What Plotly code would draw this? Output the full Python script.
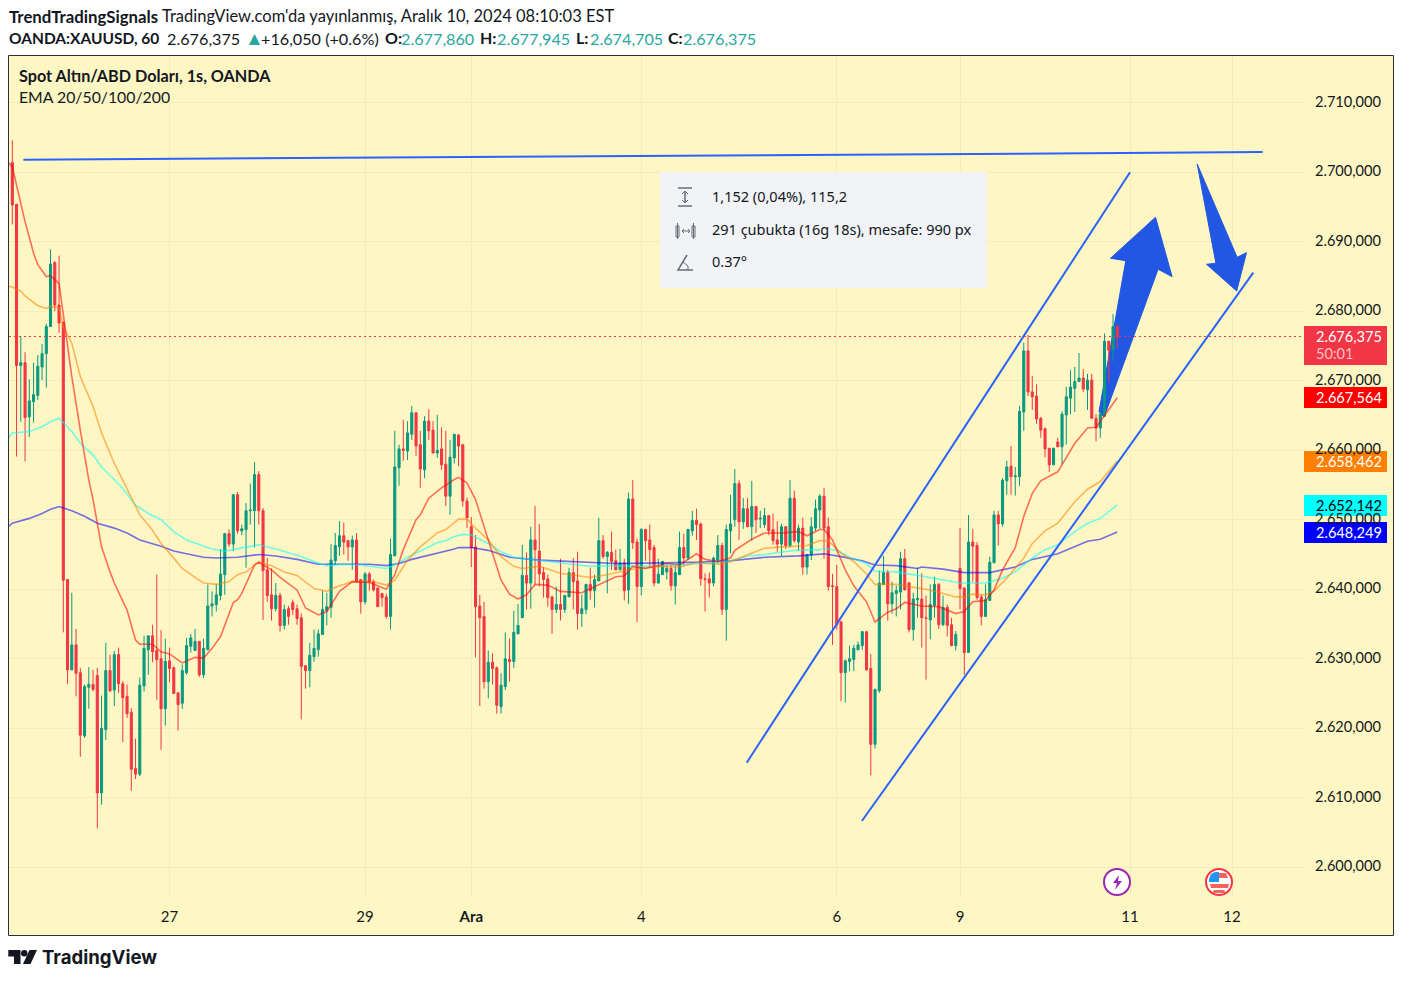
"""
Spot gold (OANDA:XAUUSD) 1h chart with EMA 20/50/100/200 and hand drawn channel.
"""

import plotly.graph_objects as go

open_prices = [
    2701.4, 2695.4, 2672.2, 2672.6, 2664.8, 2667.0, 2667.9, 2672.0, 2673.9, 2677.8,
    2687.0, 2680.9, 2678.4, 2641.4, 2628.4, 2632.0, 2628.0, 2618.9, 2625.9, 2626.3,
    2627.6, 2610.7, 2619.8, 2628.3, 2625.5, 2630.6, 2626.4, 2624.6, 2622.3, 2614.2,
    2613.4, 2626.1, 2631.3, 2633.3, 2631.2, 2630.0, 2622.8, 2629.7, 2628.7, 2625.1,
    2623.6, 2628.0, 2631.8, 2631.2, 2632.5, 2627.7, 2631.3, 2637.6, 2637.8, 2639.1,
    2642.1, 2648.0, 2646.5, 2653.6, 2648.4, 2648.6, 2651.3, 2651.3, 2656.5, 2651.3,
    2642.8, 2639.2, 2637.2, 2639.1, 2634.8, 2637.2, 2638.1, 2637.2, 2635.9, 2629.0,
    2628.3, 2630.3, 2631.3, 2633.5, 2636.9, 2637.4, 2644.1, 2646.1, 2647.7, 2647.0,
    2646.1, 2647.1, 2641.4, 2638.2, 2642.2, 2641.1, 2640.2, 2639.4, 2638.9, 2636.1,
    2644.8, 2657.5, 2660.2, 2659.9, 2662.3, 2665.4, 2660.8, 2657.2, 2664.2, 2662.9,
    2659.6, 2660.2, 2658.0, 2653.4, 2658.9, 2662.2, 2660.8, 2652.7, 2649.0, 2646.1,
    2637.6, 2636.1, 2626.7, 2629.5, 2628.7, 2623.1, 2626.0, 2629.9, 2629.6, 2633.6,
    2635.9, 2642.0, 2640.9, 2647.1, 2645.5, 2642.4, 2641.5, 2638.9, 2637.1, 2637.8,
    2637.1, 2638.9, 2642.4, 2641.2, 2636.5, 2637.1, 2640.7, 2639.8, 2641.2, 2647.0,
    2644.7, 2645.3, 2644.1, 2642.8, 2643.8, 2639.9, 2653.0, 2646.8, 2640.4, 2648.6,
    2647.1, 2646.0, 2640.9, 2642.1, 2642.5, 2643.0, 2640.5, 2642.1, 2646.0, 2644.5,
    2648.4, 2649.9, 2649.4, 2641.5, 2641.5, 2640.9, 2644.2, 2646.3, 2637.1, 2648.4,
    2650.0, 2655.2, 2649.7, 2651.6, 2649.0, 2651.9, 2650.1, 2649.3, 2650.6, 2648.6,
    2647.1, 2646.5, 2649.0, 2646.3, 2653.1, 2646.8, 2648.8, 2643.2, 2645.0, 2648.8,
    2651.4, 2653.4, 2649.0, 2640.5, 2640.4, 2635.3, 2628.0, 2629.6, 2629.9, 2631.3,
    2631.9, 2633.9, 2628.6, 2617.7, 2625.4, 2640.7, 2642.4, 2637.9, 2639.4, 2639.6,
    2644.4, 2640.9, 2634.2, 2638.5, 2638.6, 2635.9, 2635.6, 2637.7, 2640.7, 2634.9,
    2637.4, 2634.9, 2631.9, 2643.0, 2640.2, 2630.9, 2646.8, 2646.3, 2638.9, 2636.1,
    2638.4, 2643.8, 2650.7, 2649.4, 2655.6, 2657.7, 2656.2, 2656.2, 2665.5, 2674.3,
    2668.4, 2667.8, 2664.6, 2663.1, 2660.3, 2657.9, 2661.2, 2660.5, 2665.1, 2667.5,
    2668.9, 2669.9, 2670.4, 2668.7, 2670.1, 2664.6, 2663.2, 2664.9, 2675.7, 2674.4,
    2677.86,
]
high_prices = [
    2704.6, 2695.4, 2676.3, 2674.1, 2670.2, 2672.6, 2673.7, 2675.3, 2678.2, 2688.9,
    2687.2, 2688.0, 2678.5, 2641.4, 2639.5, 2634.3, 2628.7, 2626.3, 2628.8, 2628.4,
    2628.7, 2624.7, 2632.3, 2630.6, 2631.1, 2631.6, 2626.8, 2626.3, 2622.9, 2618.5,
    2627.3, 2633.3, 2633.3, 2634.9, 2642.1, 2634.1, 2632.9, 2631.6, 2628.9, 2625.1,
    2629.2, 2633.0, 2633.6, 2634.3, 2632.5, 2632.9, 2640.7, 2639.7, 2640.8, 2645.8,
    2648.1, 2648.6, 2653.7, 2654.0, 2649.3, 2652.4, 2655.2, 2658.3, 2657.0, 2651.7,
    2644.5, 2643.0, 2640.9, 2639.5, 2637.8, 2637.6, 2638.5, 2637.8, 2636.5, 2629.0,
    2632.3, 2634.2, 2634.2, 2639.8, 2639.5, 2646.5, 2648.1, 2649.8, 2649.6, 2647.1,
    2647.7, 2648.1, 2641.4, 2642.5, 2642.5, 2641.4, 2640.2, 2639.4, 2639.4, 2647.3,
    2662.8, 2660.8, 2664.4, 2664.2, 2666.4, 2665.4, 2662.8, 2664.9, 2665.9, 2664.2,
    2665.1, 2663.3, 2662.8, 2661.5, 2662.3, 2662.3, 2660.9, 2653.2, 2650.4, 2647.8,
    2639.2, 2638.2, 2631.2, 2630.8, 2628.9, 2627.9, 2633.8, 2632.9, 2636.9, 2637.9,
    2646.4, 2645.3, 2649.0, 2652.0, 2649.4, 2643.2, 2642.1, 2639.1, 2640.4, 2644.4,
    2639.2, 2643.1, 2644.5, 2645.4, 2639.2, 2640.8, 2643.1, 2642.1, 2650.3, 2647.8,
    2645.5, 2648.3, 2645.7, 2645.8, 2644.4, 2653.9, 2655.7, 2647.3, 2648.8, 2648.7,
    2649.3, 2646.4, 2644.4, 2644.1, 2643.5, 2643.5, 2643.4, 2648.3, 2648.0, 2648.7,
    2651.3, 2651.6, 2649.6, 2642.3, 2642.4, 2644.7, 2647.8, 2646.7, 2649.3, 2653.6,
    2657.3, 2655.7, 2653.1, 2653.1, 2655.6, 2652.0, 2651.3, 2651.7, 2650.6, 2650.9,
    2649.8, 2649.4, 2649.1, 2655.7, 2654.2, 2649.3, 2650.3, 2645.0, 2650.4, 2652.9,
    2653.7, 2654.6, 2650.3, 2642.2, 2643.5, 2635.5, 2629.9, 2631.9, 2632.0, 2632.5,
    2634.0, 2633.9, 2630.7, 2625.7, 2642.7, 2644.8, 2642.8, 2641.1, 2640.5, 2645.4,
    2645.8, 2641.1, 2639.5, 2643.1, 2642.3, 2639.1, 2640.7, 2641.8, 2640.9, 2639.1,
    2637.8, 2635.9, 2634.0, 2648.8, 2640.2, 2650.7, 2648.7, 2646.8, 2639.2, 2640.7,
    2644.7, 2651.3, 2651.3, 2656.0, 2658.5, 2660.6, 2657.6, 2666.4, 2675.5, 2676.6,
    2670.7, 2669.5, 2664.8, 2663.3, 2660.3, 2660.3, 2661.8, 2665.6, 2669.1, 2671.5,
    2672.0, 2674.0, 2671.7, 2671.0, 2671.0, 2665.2, 2665.6, 2676.8, 2675.7, 2679.6,
    2677.945,
]
low_prices = [
    2692.5, 2659.1, 2664.1, 2658.4, 2661.9, 2664.0, 2667.2, 2670.1, 2669.0, 2677.8,
    2680.0, 2676.9, 2633.8, 2626.4, 2628.4, 2624.6, 2615.9, 2618.6, 2622.8, 2625.3,
    2605.6, 2609.0, 2618.3, 2625.2, 2623.2, 2625.1, 2618.0, 2621.5, 2611.0, 2612.7,
    2613.1, 2625.3, 2627.7, 2629.5, 2624.1, 2616.9, 2620.4, 2626.6, 2625.0, 2619.7,
    2622.8, 2627.7, 2630.9, 2631.2, 2627.4, 2627.2, 2631.3, 2636.1, 2636.8, 2638.4,
    2639.2, 2646.1, 2645.5, 2648.0, 2647.8, 2643.1, 2649.3, 2646.0, 2649.3, 2635.6,
    2638.2, 2635.5, 2636.8, 2633.9, 2634.2, 2634.9, 2636.3, 2634.9, 2621.3, 2625.7,
    2625.9, 2629.6, 2630.3, 2633.5, 2634.8, 2635.9, 2643.5, 2644.8, 2645.0, 2644.1,
    2642.8, 2640.9, 2636.5, 2637.8, 2639.8, 2639.7, 2637.5, 2637.5, 2635.8, 2634.2,
    2644.8, 2654.9, 2658.5, 2658.6, 2661.5, 2659.2, 2654.6, 2656.0, 2661.5, 2659.6,
    2658.9, 2657.2, 2652.0, 2650.7, 2658.1, 2657.7, 2651.9, 2648.8, 2643.2, 2630.2,
    2623.2, 2625.7, 2624.3, 2626.3, 2622.1, 2622.1, 2625.5, 2626.7, 2628.7, 2633.5,
    2635.9, 2637.1, 2637.2, 2640.7, 2640.4, 2638.8, 2637.5, 2633.6, 2636.6, 2635.5,
    2636.6, 2638.9, 2637.1, 2634.2, 2634.6, 2636.4, 2638.5, 2637.4, 2641.2, 2644.4,
    2639.4, 2642.8, 2642.7, 2642.8, 2638.4, 2637.9, 2645.8, 2635.3, 2639.1, 2644.1,
    2643.2, 2640.4, 2640.8, 2642.1, 2641.4, 2639.8, 2637.8, 2642.1, 2643.4, 2644.2,
    2647.7, 2647.1, 2640.5, 2636.8, 2638.8, 2640.4, 2643.7, 2636.3, 2632.6, 2645.2,
    2649.0, 2647.1, 2648.7, 2649.0, 2647.0, 2648.1, 2648.8, 2648.8, 2647.8, 2646.4,
    2645.4, 2644.8, 2645.8, 2646.0, 2646.7, 2645.5, 2642.1, 2642.1, 2644.2, 2648.4,
    2648.7, 2644.4, 2639.8, 2632.0, 2634.2, 2623.9, 2623.7, 2628.2, 2628.2, 2631.2,
    2631.3, 2628.3, 2613.2, 2617.1, 2625.1, 2640.7, 2635.5, 2636.5, 2636.1, 2637.1,
    2639.9, 2633.8, 2632.6, 2635.9, 2631.6, 2627.0, 2632.8, 2635.9, 2634.3, 2634.7,
    2633.2, 2631.8, 2631.2, 2637.1, 2627.7, 2630.9, 2641.1, 2638.5, 2634.8, 2636.1,
    2638.3, 2643.8, 2646.3, 2649.0, 2653.6, 2653.6, 2653.5, 2654.9, 2662.8, 2667.8,
    2665.8, 2663.8, 2661.8, 2659.0, 2656.9, 2657.9, 2660.5, 2658.0, 2660.8, 2665.2,
    2665.5, 2669.8, 2668.4, 2665.8, 2664.6, 2661.3, 2661.8, 2664.9, 2669.8, 2672.8,
    2674.705,
]
close_prices = [
    2695.3, 2672.2, 2672.6, 2664.7, 2667.1, 2668.0, 2672.1, 2673.9, 2677.8, 2686.8,
    2680.9, 2678.3, 2641.3, 2628.4, 2632.0, 2627.9, 2619.0, 2626.0, 2626.3, 2625.6,
    2610.7, 2620.0, 2628.3, 2625.4, 2630.6, 2626.4, 2624.4, 2622.1, 2614.1, 2613.4,
    2626.2, 2631.5, 2633.3, 2631.0, 2629.9, 2622.8, 2629.6, 2628.6, 2625.0, 2623.4,
    2628.3, 2631.9, 2633.0, 2632.5, 2627.7, 2631.5, 2637.6, 2637.9, 2639.2, 2642.2,
    2648.0, 2646.5, 2653.6, 2648.4, 2648.7, 2651.3, 2651.4, 2656.5, 2651.3, 2642.7,
    2639.1, 2637.2, 2639.1, 2634.8, 2637.1, 2636.1, 2637.1, 2635.8, 2628.9, 2628.3,
    2630.5, 2631.5, 2633.6, 2637.1, 2637.5, 2644.2, 2646.3, 2647.7, 2646.8, 2646.1,
    2647.1, 2641.2, 2638.2, 2642.2, 2641.1, 2639.9, 2637.5, 2638.8, 2636.1, 2645.0,
    2657.6, 2660.2, 2660.0, 2662.5, 2665.4, 2660.6, 2657.3, 2664.2, 2662.8, 2659.6,
    2660.0, 2657.9, 2653.4, 2659.0, 2662.3, 2660.6, 2652.7, 2650.3, 2646.0, 2637.5,
    2635.9, 2626.7, 2629.5, 2628.6, 2623.3, 2626.2, 2630.0, 2629.6, 2633.8, 2634.8,
    2642.0, 2640.9, 2647.1, 2645.7, 2642.2, 2641.4, 2638.8, 2637.1, 2637.8, 2637.1,
    2639.1, 2642.4, 2641.1, 2636.5, 2637.2, 2640.7, 2639.8, 2641.4, 2647.0, 2644.7,
    2645.3, 2644.0, 2642.8, 2643.8, 2639.8, 2653.0, 2646.7, 2640.4, 2648.6, 2647.0,
    2645.7, 2640.9, 2642.2, 2644.0, 2643.0, 2640.5, 2642.4, 2646.0, 2644.5, 2648.6,
    2649.9, 2649.3, 2641.5, 2641.4, 2640.9, 2644.5, 2646.3, 2637.1, 2648.6, 2649.4,
    2655.2, 2649.7, 2651.6, 2649.0, 2651.9, 2650.0, 2650.2, 2650.6, 2648.4, 2647.0,
    2646.5, 2649.0, 2646.3, 2653.1, 2647.0, 2648.8, 2643.2, 2645.0, 2649.0, 2651.6,
    2653.4, 2648.8, 2640.4, 2640.4, 2634.9, 2628.0, 2629.7, 2630.0, 2631.5, 2632.0,
    2633.9, 2628.4, 2617.7, 2625.6, 2640.9, 2642.4, 2637.9, 2639.5, 2639.8, 2644.4,
    2639.9, 2634.2, 2638.6, 2638.7, 2635.9, 2635.8, 2637.8, 2640.7, 2634.9, 2637.4,
    2634.8, 2631.9, 2633.5, 2640.1, 2630.9, 2646.8, 2646.2, 2638.8, 2636.1, 2638.5,
    2643.9, 2650.7, 2649.4, 2655.7, 2657.6, 2656.2, 2656.3, 2665.6, 2674.3, 2668.4,
    2667.7, 2664.5, 2662.9, 2660.2, 2657.9, 2660.3, 2660.5, 2665.2, 2667.7, 2669.1,
    2669.9, 2670.4, 2668.8, 2670.1, 2664.6, 2663.2, 2665.2, 2675.7, 2674.4, 2677.8,
    2676.375,
]

# EMA lines, read at the bars where they bend (bar -1 is the left edge of the pane)
ema20_bars = [-1, 0, 2, 3, 5, 6, 8, 9, 11, 12, 14, 16, 18, 19, 21, 23, 24, 27, 29, 30, 33, 35, 37, 40, 43, 45, 47, 49,
              52, 53, 54, 57, 58, 61, 63, 67, 69, 72, 74, 77, 80, 84, 88, 90, 92, 95, 96, 98, 101, 104, 105, 107,
              109, 112, 115, 117, 119, 121, 123, 126, 129, 134, 137, 142, 144, 146, 149, 154, 157, 161, 163, 166,
              169, 170, 174, 177, 181, 185, 187, 190, 191, 193, 196, 198, 201, 203, 206, 208, 210, 213, 214, 218,
              222, 224, 226, 229, 231, 233, 236, 238, 240, 242, 244, 246, 250, 253, 255, 260]
ema20_vals = [2701.4, 2700.8, 2695.5, 2692.9, 2688.4, 2686.7, 2685.0, 2685.1, 2684.0, 2679.7, 2670.6, 2662.9, 2655.7,
              2652.9, 2646.1, 2642.5, 2640.9, 2637.0, 2632.7, 2632.1, 2632.1, 2631.0, 2630.7, 2629.4, 2630.2,
              2630.1, 2631.5, 2633.2, 2638.1, 2638.5, 2639.4, 2643.5, 2643.9, 2642.8, 2641.7, 2639.9, 2637.3,
              2636.3, 2636.8, 2639.7, 2641.1, 2641.0, 2640.0, 2642.1, 2645.7, 2650.0, 2650.7, 2653.1, 2654.6,
              2655.8, 2656.1, 2655.3, 2652.9, 2647.1, 2641.3, 2639.3, 2638.6, 2639.2, 2640.7, 2640.6, 2639.7,
              2639.5, 2640.4, 2641.8, 2641.9, 2643.3, 2643.0, 2643.7, 2643.5, 2645.1, 2644.3, 2644.0, 2644.5,
              2645.6, 2647.2, 2648.1, 2648.1, 2648.3, 2647.7, 2648.6, 2648.6, 2647.1, 2642.8, 2640.5, 2638.2,
              2635.3, 2636.7, 2637.2, 2638.1, 2637.8, 2637.6, 2637.5, 2636.5, 2636.8, 2638.2, 2638.4, 2639.9,
              2642.8, 2646.0, 2650.5, 2653.8, 2655.6, 2656.2, 2656.9, 2661.0, 2663.2, 2663.3, 2667.564]
ema50_bars = [-1, 0, 2, 3, 6, 8, 9, 11, 12, 14, 16, 19, 21, 23, 24, 26, 28, 30, 33, 35, 37, 40, 43, 45, 48, 51, 53, 55,
              58, 61, 64, 67, 71, 74, 76, 80, 85, 88, 90, 93, 96, 98, 100, 102, 104, 105, 107, 109, 112, 115, 118,
              120, 124, 129, 136, 140, 145, 152, 157, 162, 163, 167, 169, 174, 177, 181, 187, 190, 192, 195, 198,
              201, 203, 208, 213, 216, 222, 224, 226, 229, 231, 234, 238, 240, 243, 246, 250, 253, 256, 260]
ema50_vals = [2683.6, 2683.5, 2682.9, 2682.2, 2680.8, 2680.4, 2680.7, 2680.5, 2677.8, 2675.4, 2670.6, 2666.3, 2662.5,
              2659.6, 2658.1, 2655.7, 2653.3, 2650.7, 2648.5, 2646.6, 2645.2, 2643.0, 2641.7, 2640.9, 2640.7,
              2641.1, 2642.1, 2642.5, 2643.9, 2643.4, 2642.5, 2642.0, 2640.1, 2639.7, 2640.3, 2641.1, 2641.1,
              2640.6, 2641.3, 2644.2, 2646.1, 2647.1, 2648.1, 2648.6, 2649.6, 2650.1, 2650.1, 2648.8, 2647.1,
              2644.7, 2643.3, 2643.0, 2643.3, 2642.3, 2641.7, 2642.1, 2642.8, 2643.3, 2643.2, 2644.0, 2643.7,
              2643.6, 2644.0, 2645.2, 2645.9, 2646.1, 2646.3, 2647.0, 2647.0, 2645.2, 2644.0, 2642.2, 2640.7,
              2640.7, 2640.2, 2639.9, 2638.9, 2638.9, 2639.3, 2639.2, 2639.7, 2641.6, 2644.5, 2646.6, 2648.4,
              2649.5, 2652.6, 2654.4, 2655.5, 2658.462]
ema100_bars = [-1, 0, 4, 7, 9, 11, 14, 16, 19, 21, 24, 26, 29, 32, 35, 38, 41, 44, 47, 50, 52, 55, 58, 62, 67, 71, 74,
               78, 82, 88, 90, 93, 97, 100, 102, 104, 106, 108, 112, 115, 118, 123, 130, 136, 141, 147, 154, 162,
               169, 173, 177, 184, 190, 191, 194, 197, 201, 203, 208, 213, 216, 220, 223, 229, 233, 236, 240, 243,
               246, 250, 253, 256, 260]
ema100_vals = [2661.7, 2662.5, 2662.7, 2663.4, 2664.1, 2664.6, 2662.7, 2661.0, 2659.3, 2657.6, 2655.8, 2654.5, 2652.1,
               2650.9, 2650.0, 2648.3, 2647.1, 2646.4, 2645.8, 2645.5, 2645.7, 2646.0, 2646.4, 2645.8, 2644.9,
               2644.0, 2643.4, 2643.6, 2643.5, 2643.0, 2643.5, 2644.6, 2645.8, 2646.7, 2647.0, 2647.6, 2647.9,
               2647.8, 2646.6, 2645.4, 2644.6, 2644.2, 2643.7, 2643.3, 2643.4, 2643.3, 2643.4, 2643.7, 2644.1,
               2644.8, 2645.0, 2645.6, 2645.7, 2645.9, 2645.6, 2644.6, 2643.7, 2642.6, 2642.5, 2642.0, 2641.7,
               2641.3, 2640.9, 2640.9, 2641.6, 2642.5, 2644.5, 2645.7, 2646.4, 2648.3, 2649.5, 2650.2, 2652.142]
ema200_bars = [-1, 0, 4, 7, 9, 11, 14, 17, 20, 24, 27, 30, 35, 38, 41, 45, 48, 53, 58, 62, 67, 72, 78, 84, 88, 91, 94,
               98, 102, 104, 105, 108, 112, 117, 124, 132, 142, 154, 162, 169, 177, 185, 191, 195, 200, 203, 208,
               213, 214, 219, 224, 230, 236, 240, 246, 253, 256, 260]
ema200_vals = [2649.0, 2649.5, 2650.2, 2650.9, 2651.5, 2651.9, 2651.3, 2650.5, 2649.5, 2648.8, 2648.1, 2647.1, 2646.2,
               2645.5, 2645.1, 2644.6, 2644.5, 2644.6, 2645.0, 2644.8, 2644.3, 2643.6, 2643.6, 2643.6, 2643.4,
               2643.7, 2644.3, 2644.9, 2645.4, 2645.8, 2646.0, 2646.0, 2645.6, 2644.6, 2644.2, 2644.0, 2643.7,
               2643.8, 2643.9, 2644.1, 2644.6, 2644.8, 2645.1, 2644.7, 2644.1, 2643.5, 2643.4, 2643.0, 2643.2,
               2642.9, 2642.4, 2642.4, 2643.2, 2644.3, 2645.1, 2646.9, 2647.2, 2648.249]

# Hand drawn lines and arrows (bar, price)
resistance_bars = [2.6, 294.2]
resistance_prices = [2701.8, 2702.9]
channel_top_bars = [172.8, 263.0]
channel_top_prices = [2615.05, 2700.0]
channel_bottom_bars = [199.9, 292.0]
channel_bottom_prices = [2606.66, 2685.55]
arrow_up_bars = [269.0, 272.9, 269.6, 256.9, 255.7, 262.0, 258.4]
arrow_up_prices = [2693.53, 2684.98, 2686.04, 2664.79, 2665.55, 2687.28, 2687.63]
arrow_down_bars = [288.1, 281.0, 283.2, 278.8, 288.2, 290.4]
arrow_down_prices = [2682.92, 2686.76, 2686.91, 2701.19, 2687.77, 2688.43]

# Axis labels
price_ticks = [2710, 2700, 2690, 2680, 2670, 2660, 2650, 2640, 2630, 2620, 2610, 2600]
price_labels = ["2.710,000", "2.700,000", "2.690,000", "2.680,000", "2.670,000", "2.660,000",
                "2.650,000", "2.640,000", "2.630,000", "2.620,000", "2.610,000", "2.600,000"]
date_ticks = [37, 83, 108, 148, 194, 223, 263, 287]
date_labels = ["27", "29", "<b>Ara</b>", "4", "6", "9", "11", "12"]
last_price = 2676.375

TEXT = "#131722"
TEAL = "#2aa79b"
BG = "#fff7c3"
GRID = "#f3ecc0"
DRAW_BLUE = "#2962ff"
ARROW_BLUE = "#2157e3"
GREY = "#6a6d78"
FONT = "Lato"

# Pane edges on the page
PANE_L, PANE_R, PANE_T, PANE_B = 9, 1303, 56, 898


def px_x(px):
    return (px - PANE_L) / (PANE_R - PANE_L)


def px_y(py):
    return (PANE_B - py) / (PANE_B - PANE_T)


def page_path(points, close=False):
    """SVG path in paper coordinates from page pixels"""
    d = "M " + " L ".join(f"{px_x(x):.5f},{px_y(y):.5f}" for x, y in points)
    return d + (" Z" if close else "")


def data_path(bars, prices):
    return "M " + " L ".join(f"{b},{p}" for b, p in zip(bars, prices)) + " Z"


def page_shape(points, color=None, fill=None, width=1, close=False):
    return dict(
        type="path", xref="paper", yref="paper", path=page_path(points, close),
        line=dict(color=color or "rgba(0,0,0,0)", width=width),
        fillcolor=fill or "rgba(0,0,0,0)", layer="above",
    )


def page_box(x0, y0, x1, y1, fill, color=None, width=0, kind="rect", layer="above"):
    return dict(
        type=kind, xref="paper", yref="paper",
        x0=px_x(x0), x1=px_x(x1), y0=px_y(y1), y1=px_y(y0),
        fillcolor=fill, line=dict(color=color or "rgba(0,0,0,0)", width=width), layer=layer,
    )


def page_text(px, py, text, size=15, color=TEXT, anchor="left", family=FONT):
    return dict(
        xref="paper", yref="paper", x=px_x(px), y=px_y(py), text=text, showarrow=False,
        xanchor=anchor, yanchor="middle", align=anchor, borderpad=0,
        font=dict(family=family, size=size, color=color),
    )


fig = go.Figure()

bars = list(range(len(close_prices)))
fig.add_trace(
    go.Candlestick(
        x=bars,
        open=open_prices,
        high=high_prices,
        low=low_prices,
        close=close_prices,
        increasing=dict(line=dict(color="#089981", width=1), fillcolor="#089981"),
        decreasing=dict(line=dict(color="#f23645", width=1), fillcolor="#f23645"),
        showlegend=False,
    )
)

for ema_bars, ema_vals, color in [
    (ema200_bars, ema200_vals, "#0000ff"),
    (ema100_bars, ema100_vals, "#00ffff"),
    (ema50_bars, ema50_vals, "#ff8000"),
    (ema20_bars, ema20_vals, "#ff0000"),
]:
    fig.add_trace(
        go.Scatter(
            x=ema_bars, y=ema_vals, mode="lines", opacity=0.55,
            line=dict(color=color, width=1.6), showlegend=False, hoverinfo="skip",
        )
    )

for line_bars, line_prices in [
    (resistance_bars, resistance_prices),
    (channel_top_bars, channel_top_prices),
    (channel_bottom_bars, channel_bottom_prices),
]:
    fig.add_trace(
        go.Scatter(
            x=line_bars, y=line_prices, mode="lines",
            line=dict(color=DRAW_BLUE, width=2), showlegend=False, hoverinfo="skip",
        )
    )

shapes = [
    # right hand price scale background and outer frame
    page_box(PANE_R, 56, 1393, 935, BG, layer="below"),
    page_box(9, 898, PANE_R, 935, BG, layer="below"),
    # big arrows sit under the candles
    dict(type="path", xref="x", yref="y", path=data_path(arrow_up_bars, arrow_up_prices),
         fillcolor=ARROW_BLUE, line=dict(color=ARROW_BLUE, width=1), layer="between"),
    dict(type="path", xref="x", yref="y", path=data_path(arrow_down_bars, arrow_down_prices),
         fillcolor=ARROW_BLUE, line=dict(color=ARROW_BLUE, width=1), layer="between"),
    # last price line
    dict(type="line", xref="paper", yref="y", x0=0, x1=1, y0=last_price, y1=last_price,
         line=dict(color="#f23645", width=1, dash="2px,3px"), layer="above"),
    page_box(8.5, 55.5, 1393.5, 935.5, "rgba(0,0,0,0)", "#2a2e39", 1),
    # price tags
    page_box(1304, 326, 1387, 365, "#f23645"),
    page_box(1304, 387, 1387, 408, "#ff0000"),
    page_box(1304, 451, 1387, 472, "#ff8000"),
    page_box(1304, 495, 1387, 516, "#00ffff"),
    page_box(1304, 522, 1387, 543, "#0000ff"),
    # measure tooltip
    page_box(660, 172, 987, 288, "#f1f3f6"),
    # tooltip icons
    page_shape([(678, 188), (692, 188)], GREY, width=1.5),
    page_shape([(678, 206), (692, 206)], GREY, width=1.5),
    page_shape([(685, 191), (685, 203)], GREY, width=1.5),
    page_shape([(682, 194), (685, 191), (688, 194)], GREY, width=1),
    page_shape([(682, 200), (685, 203), (688, 200)], GREY, width=1),
    page_box(676, 226, 679, 237, "rgba(0,0,0,0)", GREY, 1),
    page_box(692, 226, 695, 237, "rgba(0,0,0,0)", GREY, 1),
    page_shape([(677.5, 223), (677.5, 239)], GREY, width=1),
    page_shape([(693.5, 223), (693.5, 239)], GREY, width=1),
    page_shape([(682, 231), (690, 231)], GREY, width=1),
    page_shape([(684, 229), (682, 231), (684, 233)], GREY, width=1),
    page_shape([(688, 229), (690, 231), (688, 233)], GREY, width=1),
    page_shape([(693, 270), (678, 270), (687, 255)], GREY, width=1.5),
    page_shape([(683, 262), (688, 266), (688, 270)], GREY, width=1),
    # event icons
    page_box(1104, 869, 1130, 895, "#ffffff", "#9c27b0", 2, kind="circle"),
    page_shape([(1119, 875), (1113, 883), (1117, 883), (1115, 890), (1122, 881), (1118, 881)],
               fill="#9c27b0", close=True),
    page_box(1206, 869, 1232, 895, "#ffffff", "#f23645", 2, kind="circle"),
    page_shape([(1210, 884), (1229, 884), (1228, 888), (1211, 888)], fill="#f4645a", close=True),
    page_shape([(1219, 873), (1226, 873), (1228, 878), (1219, 878)], fill="#f4645a", close=True),
    page_shape([(1209, 879), (1211, 874), (1215, 872), (1219, 872), (1219, 882), (1209, 882)],
               fill="#2196f3", close=True),
    page_shape([(1212, 893), (1226, 893), (1224, 890), (1214, 890)], fill="#f4645a", close=True),
    # TradingView mark
    page_shape([(8.3, 950), (20.5, 950), (20.5, 964), (14, 964), (14, 956.5), (8.3, 956.5)],
               fill="#131722", close=True),
    page_box(21, 950, 27.5, 956.5, "#131722", kind="circle"),
    page_shape([(29.5, 950), (37, 950), (30.5, 964), (23, 964)], fill="#131722", close=True),
]


def teal(text):
    return f'<span style="color:{TEAL}">{text}</span>'


annotations = [
    page_text(8, 16, "<b>TrendTradingSignals</b>", size=16.8),
    page_text(161, 16.5, "TradingView.com'da yayınlanmış, Aralık 10, 2024 08:10:03 EST", size=16.5),
    page_text(8, 38, "<b>OANDA:XAUUSD, 60</b>", size=15.5),
    page_text(166, 38.5, "2.676,375", size=16.2),
    page_text(244, 37.5, teal("▲"), size=19),
    page_text(260, 38.5, "+16,050 (+0.6%)", size=16.2),
    page_text(384, 38, "<b>O:</b>", size=16),
    page_text(400, 38.5, teal("2.677,860"), size=16.2),
    page_text(479, 38, "<b>H:</b>", size=16),
    page_text(496, 38.5, teal("2.677,945"), size=16.2),
    page_text(575, 38, "<b>L:</b>", size=16),
    page_text(589, 38.5, teal("2.674,705"), size=16.2),
    page_text(667, 38, "<b>C:</b>", size=16),
    page_text(682, 38.5, teal("2.676,375"), size=16.2),
    page_text(18, 76, "<b>Spot Altın/ABD Doları, 1s, OANDA</b>", size=16.2),
    page_text(18, 96.5, "EMA 20/50/100/200", size=15.8),
    page_text(711, 196, "1,152 (0,04%), 115,2", size=14.5, family="Noto Sans"),
    page_text(711, 229, "291 çubukta (16g 18s), mesafe: 990 px", size=14.5, family="Noto Sans"),
    page_text(711, 261, "0.37°", size=14.5, family="Noto Sans"),
    page_text(1314.5, 336, "2.676,375", size=14.6, color="#ffffff"),
    page_text(1314.5, 353.5, "50:01", size=14.6, color="#fbc0c4"),
    page_text(1314.5, 397, "2.667,564", size=14.6, color="#ffffff"),
    page_text(1314.5, 461, "2.658,462", size=14.6, color="#ffffff"),
    page_text(1314.5, 505, "2.652,142", size=14.6, color="#000000"),
    page_text(1314.5, 532, "2.648,249", size=14.6, color="#ffffff"),
    page_text(41, 957, "<b>TradingView</b>", size=18.6, family="Inter"),
]

# Price scale labels sit a little above their grid lines
for tick, label in zip(price_ticks, price_labels):
    annotations.insert(0, dict(
        xref="paper", yref="y", x=px_x(1314), y=tick, yshift=1.5, text=label, showarrow=False,
        xanchor="left", yanchor="middle", borderpad=0, font=dict(family=FONT, size=14.6, color=TEXT),
    ))

fig.update_layout(
    width=1402,
    height=981,
    margin=dict(l=PANE_L, r=1402 - PANE_R, t=PANE_T, b=981 - PANE_B, pad=0),
    paper_bgcolor="#ffffff",
    plot_bgcolor=BG,
    font=dict(family=FONT, size=15, color=TEXT),
    showlegend=False,
    shapes=shapes,
    annotations=annotations,
    xaxis=dict(
        range=[-0.776, 303.7],
        tickmode="array",
        tickvals=date_ticks,
        ticktext=date_labels,
        showgrid=True,
        gridcolor=GRID,
        gridwidth=1,
        zeroline=False,
        showline=False,
        ticks="outside",
        ticklen=5,
        tickcolor="rgba(0,0,0,0)",
        rangeslider=dict(visible=False),
    ),
    yaxis=dict(
        range=[2595.58, 2716.73],
        side="right",
        tickmode="array",
        tickvals=price_ticks,
        ticktext=price_labels,
        showticklabels=False,
        showgrid=True,
        gridcolor=GRID,
        gridwidth=1,
        zeroline=False,
        showline=False,
        ticks="",
    ),
)

fig.write_html(
    "out.html",
    config=dict(displayModeBar=False),
    post_script="document.body.style.margin='0';document.body.style.overflow='hidden';",
)
